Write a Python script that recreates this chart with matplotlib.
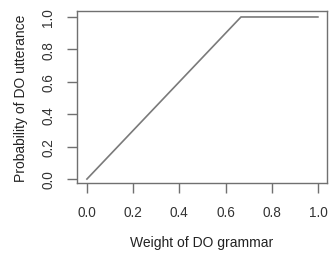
import matplotlib
matplotlib.use("Agg")
import matplotlib.pyplot as plt

# piecewise curve: probability rises with weight until it saturates at 1
weight = [0.0, 0.667, 1.0]
prob = [0.0, 1.0, 1.0]
xticks = [0.0, 0.2, 0.4, 0.6, 0.8, 1.0]
yticks = [0.0, 0.2, 0.4, 0.6, 0.8, 1.0]

plt.rcParams['font.family'] = ['Liberation Sans', 'DejaVu Sans']

fig = plt.figure(figsize=(3.31, 2.55), dpi=100)
ax = fig.add_axes([0.2326, 0.278, 0.755, 0.675])

ax.plot(weight, prob, color="#7a7a7a", linewidth=1.2)
ax.set_xlim(-0.043, 1.039)
ax.set_ylim(-0.025, 1.037)

ax.set_xticks(xticks)
ax.set_xticklabels(["%.1f" % t for t in xticks])
ax.set_yticks(yticks)
ax.set_yticklabels(["%.1f" % t for t in yticks], rotation=90, va="center")

for s in ax.spines.values():
    s.set_color("#707070")
    s.set_linewidth(1.0)
ax.tick_params(direction="out", length=7.5, width=1.0, color="#707070",
               labelsize=9.8, labelcolor="#333333", pad=8)

ax.set_xlabel("Weight of DO grammar", fontsize=10, color="#222222", labelpad=12)
ax.set_ylabel("Probability of DO utterance", fontsize=10, color="#222222", labelpad=10)

fig.savefig("out.png", dpi=100)
